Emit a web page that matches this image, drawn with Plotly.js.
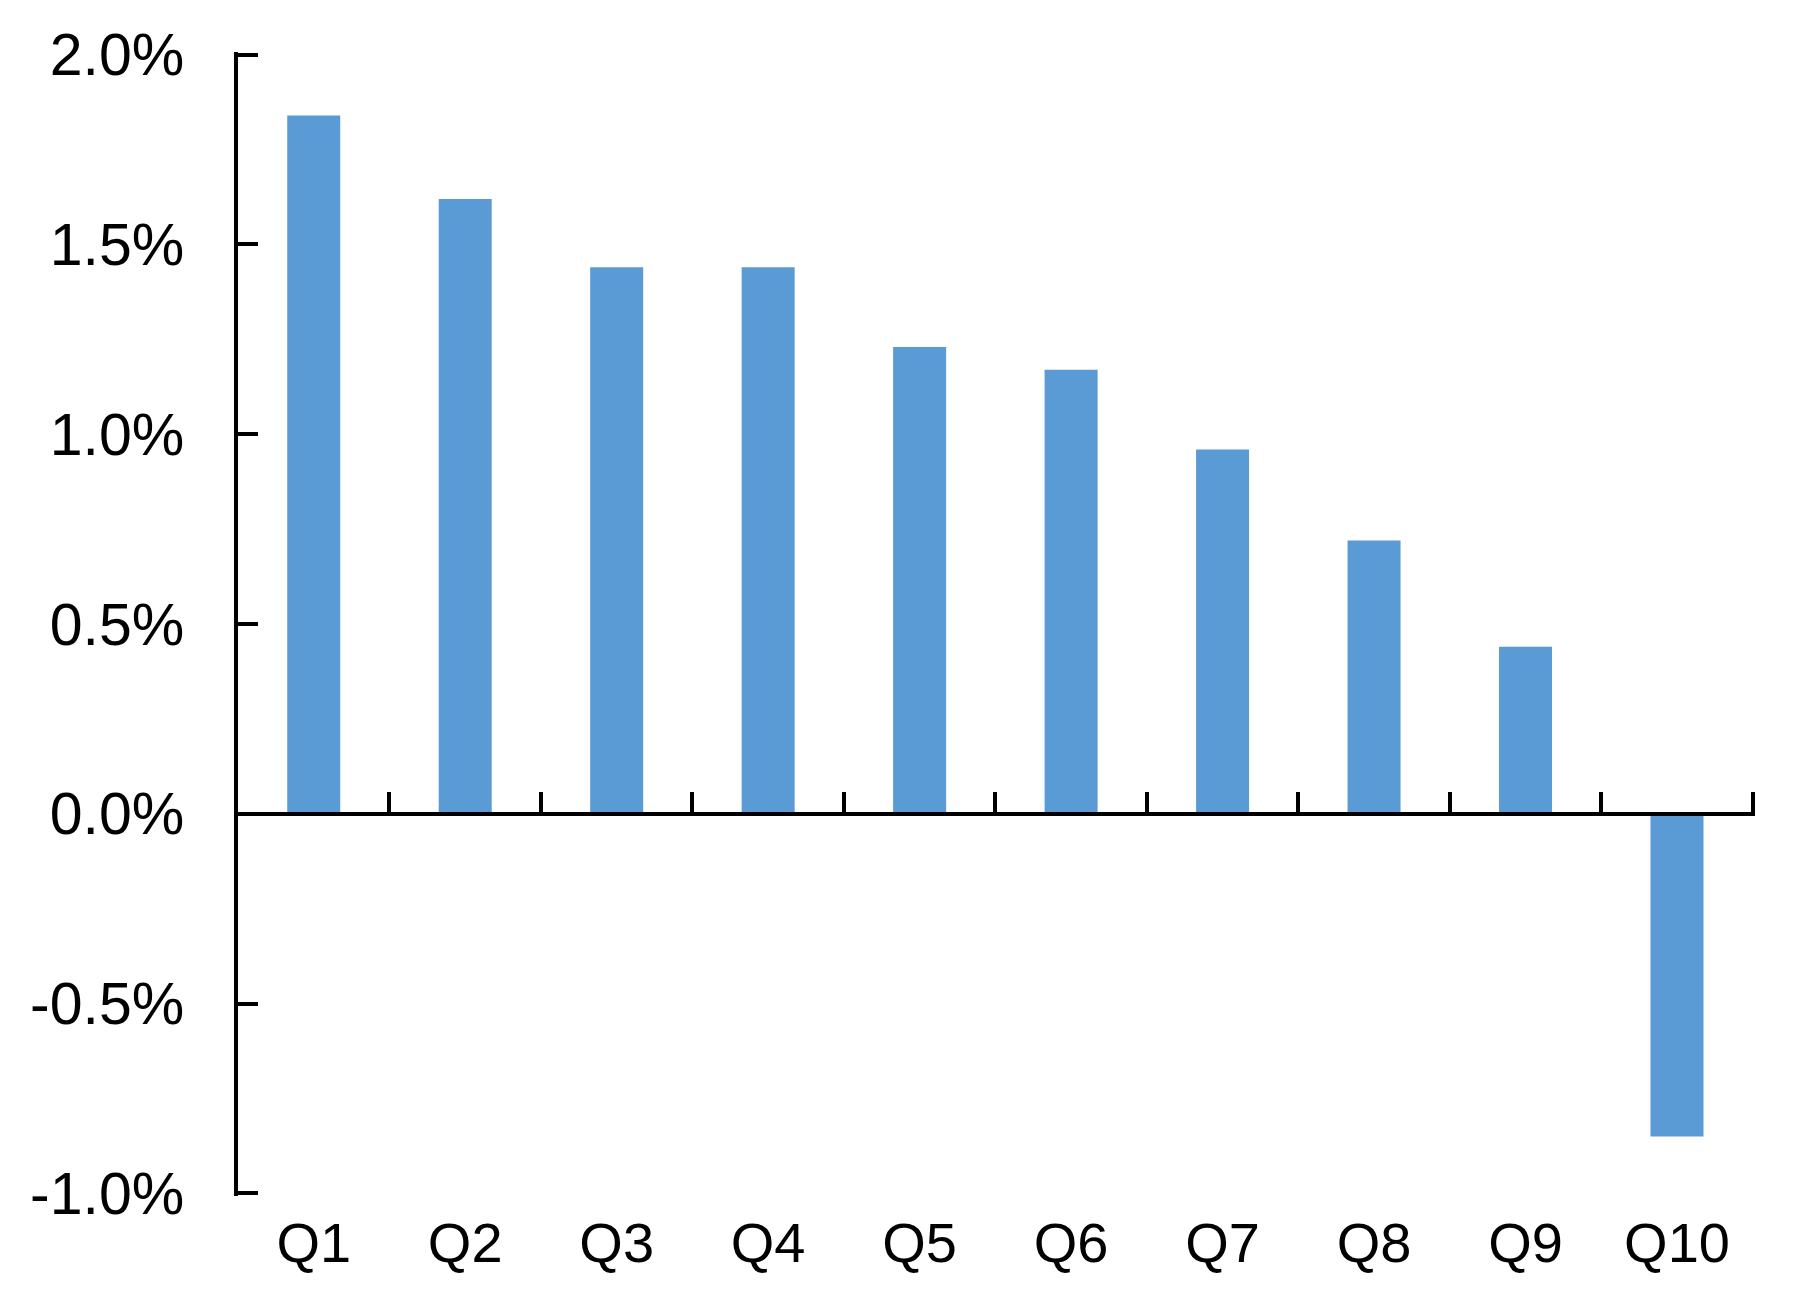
<!DOCTYPE html>
<html>
<head>
<meta charset="utf-8">
<script src="https://cdn.plot.ly/plotly-3.0.1.min.js"></script>
<style>html,body{margin:0;padding:0;background:#fff;}</style>
</head>
<body>
<div id="chart" style="width:1794px;height:1305px;"></div>
<script>
const categories = ["Q1","Q2","Q3","Q4","Q5","Q6","Q7","Q8","Q9","Q10"];
const values = [1.84, 1.62, 1.44, 1.44, 1.23, 1.17, 0.96, 0.72, 0.44, -0.85];
const yTicks = [-1.0, -0.5, 0.0, 0.5, 1.0, 1.5, 2.0];
const yTickText = ["-1.0%", "-0.5%", "0.0%", "0.5%", "1.0%", "1.5%", "2.0%"];
const boundaryTicks = [0.5, 1.5, 2.5, 3.5, 4.5, 5.5, 6.5, 7.5, 8.5, 9.5];

const fontFam = "Liberation Sans, Arial, Helvetica, sans-serif";
const xRange = [-0.5, 9.515];
const yRange = [-1.007, 2.007];

const trace = {
  type: "bar",
  x: categories,
  y: values,
  marker: {color: "#5B9BD5", line: {width: 0}},
  hoverinfo: "x+y"
};

const helper = {
  type: "scatter",
  x: [],
  y: [],
  xaxis: "x2",
  yaxis: "y",
  hoverinfo: "skip",
  showlegend: false
};

const layout = {
  width: 1794,
  height: 1305,
  margin: {l: 238, r: 39, t: 52, b: 109},
  paper_bgcolor: "#ffffff",
  plot_bgcolor: "#ffffff",
  showlegend: false,
  bargap: 0.65,
  font: {family: fontFam, color: "#000000", size: 56},
  xaxis: {
    type: "category",
    range: xRange,
    showline: false,
    showgrid: false,
    zeroline: false,
    ticks: "",
    ticklabelstandoff: 9,
    tickfont: {family: fontFam, size: 56, color: "#000000"}
  },
  xaxis2: {
    type: "linear",
    overlaying: "x",
    anchor: "free",
    position: (0 - yRange[0]) / (yRange[1] - yRange[0]),
    side: "bottom",
    range: xRange,
    showline: true,
    linecolor: "#000000",
    linewidth: 4,
    showgrid: false,
    zeroline: false,
    ticks: "inside",
    ticklen: 20,
    tickwidth: 4,
    tickcolor: "#000000",
    tickmode: "array",
    tickvals: boundaryTicks,
    showticklabels: false
  },
  yaxis: {
    range: yRange,
    tickmode: "array",
    tickvals: yTicks,
    ticktext: yTickText,
    showline: true,
    linecolor: "#000000",
    linewidth: 4,
    ticks: "inside",
    ticklen: 20,
    tickwidth: 4,
    tickcolor: "#000000",
    showgrid: false,
    zeroline: false,
    ticklabelstandoff: 38,
    tickfont: {family: fontFam, size: 59, color: "#000000"}
  }
};

Plotly.newPlot("chart", [trace, helper], layout, {displayModeBar: false, staticPlot: true});
</script>
</body>
</html>
